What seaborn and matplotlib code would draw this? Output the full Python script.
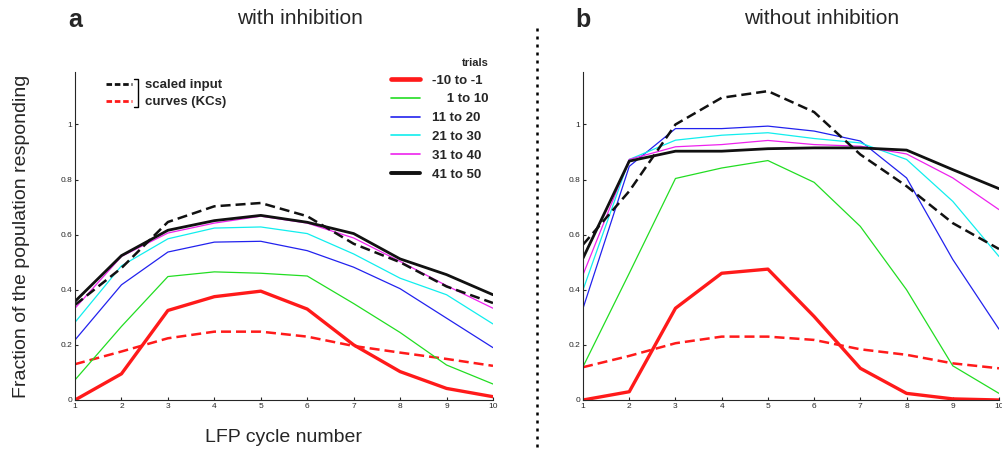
import numpy as np
import pandas as pd
import matplotlib.pyplot as plt
import seaborn as sns
from matplotlib.lines import Line2D

sns.set_style("ticks")
plt.rcParams["font.family"] = ["Liberation Sans Narrow", "Liberation Sans", "DejaVu Sans"]

cycles = list(range(1, 11))
trial_labels = ["-10 to -1", "\u2007\u20071 to 10", "11 to 20", "21 to 30", "31 to 40", "41 to 50"]
trial_colors = ["#ff1a1a", "#22dd22", "#2222ee", "#11eeee", "#ee22ee", "#111111"]
trial_widths = [2.4, 0.9, 0.9, 0.9, 0.9, 2.0]

# with inhibition
inh_trials = [
    [0.0, 0.095, 0.325, 0.375, 0.395, 0.33, 0.2, 0.103, 0.042, 0.012],
    [0.073, 0.267, 0.448, 0.465, 0.46, 0.45, 0.35, 0.245, 0.127, 0.058],
    [0.218, 0.418, 0.537, 0.573, 0.576, 0.542, 0.482, 0.404, 0.297, 0.19],
    [0.282, 0.487, 0.585, 0.624, 0.628, 0.604, 0.53, 0.442, 0.382, 0.276],
    [0.333, 0.521, 0.606, 0.642, 0.667, 0.642, 0.588, 0.503, 0.415, 0.333],
    [0.358, 0.524, 0.616, 0.651, 0.67, 0.645, 0.604, 0.512, 0.455, 0.382],
]
inh_input_black = [0.345, 0.479, 0.646, 0.703, 0.715, 0.667, 0.567, 0.5, 0.412, 0.352]
inh_input_red = [0.13, 0.176, 0.224, 0.248, 0.248, 0.23, 0.196, 0.172, 0.149, 0.124]

# without inhibition
noinh_trials = [
    [0.0, 0.03, 0.333, 0.46, 0.475, 0.303, 0.115, 0.024, 0.004, 0.0],
    [0.121, 0.46, 0.804, 0.842, 0.869, 0.79, 0.63, 0.4, 0.124, 0.024],
    [0.333, 0.848, 0.985, 0.985, 0.994, 0.976, 0.94, 0.806, 0.51, 0.257],
    [0.4, 0.873, 0.943, 0.961, 0.97, 0.949, 0.933, 0.873, 0.721, 0.521],
    [0.455, 0.873, 0.919, 0.927, 0.942, 0.927, 0.921, 0.893, 0.806, 0.691],
    [0.515, 0.867, 0.903, 0.903, 0.912, 0.915, 0.915, 0.907, 0.836, 0.767],
]
noinh_input_black = [0.564, 0.758, 1.0, 1.097, 1.121, 1.045, 0.891, 0.776, 0.642, 0.548]
noinh_input_red = [0.119, 0.16, 0.206, 0.23, 0.23, 0.218, 0.184, 0.164, 0.133, 0.115]

fig = plt.figure(figsize=(10.03, 4.51), dpi=100)
ax_a = fig.add_axes([0.0748, 0.1131, 0.4167, 0.727])
ax_b = fig.add_axes([0.5813, 0.1131, 0.4147, 0.727])


def draw_panel(ax, trials, inp_black, inp_red):
    sns.lineplot(x=cycles, y=inp_red, ax=ax, color="#ff1a1a", lw=1.8, linestyle=(0, (4, 2)))
    for vals, c, w in zip(trials, trial_colors, trial_widths):
        sns.lineplot(x=cycles, y=vals, ax=ax, color=c, lw=w)
    sns.lineplot(x=cycles, y=inp_black, ax=ax, color="#111111", lw=1.8, linestyle=(0, (4, 2)))
    ax.set_xlim(1, 10)
    ax.set_ylim(0, 1.19)
    ax.set_xticks(cycles)
    ax.set_yticks([0, 0.2, 0.4, 0.6, 0.8, 1])
    ax.set_yticklabels(["0", "0.2", "0.4", "0.6", "0.8", "1"])
    ax.tick_params(labelsize=6, direction="in", length=2, pad=2)
    sns.despine(ax=ax)


draw_panel(ax_a, inh_trials, inh_input_black, inh_input_red)
draw_panel(ax_b, noinh_trials, noinh_input_black, noinh_input_red)

ax_a.set_ylabel("Fraction of the population responding", fontsize=14, labelpad=22)
ax_a.set_xlabel("LFP cycle number", fontsize=14, labelpad=14)

# trials legend
handles = [Line2D([], [], color=c, lw=w * 1.4 if w > 1 else 1.2) for c, w in zip(trial_colors, trial_widths)]
leg = ax_a.legend(handles, trial_labels, title="trials", loc="upper right",
                  bbox_to_anchor=(1.018, 1.08), frameon=False, handlelength=2.2,
                  handletextpad=0.9, labelspacing=0.5, alignment="right",
                  prop={"weight": "bold", "size": 9.5}, title_fontproperties={"weight": "bold", "size": 8})
ax_a.add_artist(leg)

# scaled input legend
inp_handles = [Line2D([], [], color="#111111", lw=2, linestyle=(0, (2, 1))),
               Line2D([], [], color="#ff1a1a", lw=2, linestyle=(0, (2, 1)))]
ax_a.legend(inp_handles, ["scaled input", "curves (KCs)"], loc="upper left",
            bbox_to_anchor=(0.045, 1.015), frameon=False, handlelength=2.0,
            handletextpad=1.0, labelspacing=0.35, prop={"weight": "bold", "size": 9.5})
fig.add_artist(Line2D([134 / 1003, 138 / 1003, 138 / 1003, 134 / 1003],
                      [1 - 79 / 451, 1 - 79 / 451, 1 - 107 / 451, 1 - 107 / 451],
                      color="black", lw=1))

# titles
fig.text(75 / 1003, 1 - 20 / 451, "a", fontsize=18, weight="bold", ha="center", va="center")
fig.text(300 / 1003, 1 - 18 / 451, "with inhibition", fontsize=15, ha="center", va="center")
fig.text(583 / 1003, 1 - 20 / 451, "b", fontsize=18, weight="bold", ha="center", va="center")
fig.text(822 / 1003, 1 - 18 / 451, "without inhibition", fontsize=15, ha="center", va="center")

# dotted divider
fig.add_artist(Line2D([537 / 1003, 537 / 1003], [1 - 28 / 451, 0], color="black", lw=1.8,
                      linestyle=(0, (1.2, 2))))

fig.savefig("out.png", dpi=100)
